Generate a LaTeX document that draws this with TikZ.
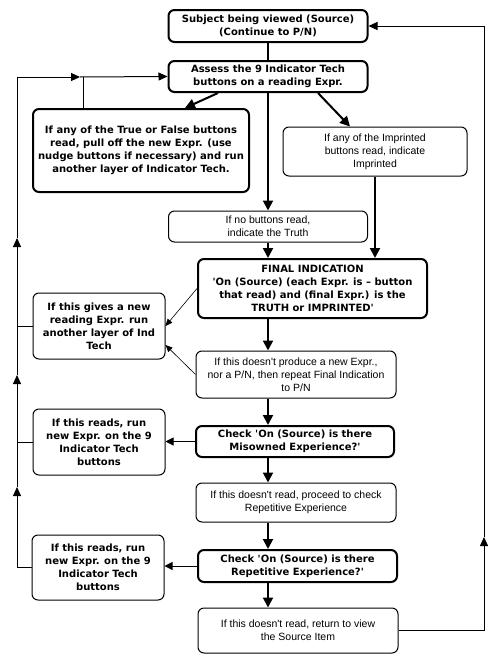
\documentclass[tikz,border=0pt]{standalone}
\usepackage{fontspec}
\usetikzlibrary{arrows.meta,calc,positioning}
\newfontfamily\chicago{DejaVu Sans}
\newfontfamily\geneva{Liberation Sans}
\newcommand{\boldtext}{\chicago\bfseries\fontsize{10}{13}\selectfont}
\newcommand{\plaintext}{\geneva\fontsize{10.5}{12.8}\selectfont}

\begin{document}
\begin{tikzpicture}[x=1pt,y=-1pt,
  box/.style={draw, rounded corners=6pt, align=center, inner sep=0pt},
  heavybox/.style={box, line width=2pt, font=\boldtext},
  lightbox/.style={box, line width=1pt, font=\plaintext},
  lightboldbox/.style={box, line width=1pt, font=\boldtext},
  flow/.style={line width=2pt, -{Triangle[width=10pt,length=10pt]}},
  link/.style={line width=1pt, -{Triangle[width=8pt,length=8pt]}},
  thinlink/.style={line width=0.6pt, -{Triangle[width=6pt,length=7pt]}},
  loopline/.style={line width=1pt, -{Triangle[width=8pt,length=9pt]}}]
  \useasboundingbox (0,0) rectangle (498,664);
  %top of the chart
  \node[heavybox, minimum width=199pt, minimum height=32pt] (source) at (268,26)
    {Subject being viewed (Source)\\(Continue to P/N)};
  \node[heavybox, minimum width=199pt, minimum height=31pt] (assess) at (268,76.5)
    {Assess the 9 Indicator Tech\\buttons on a reading Expr.};
  %the three outcomes of the buttons
  \node[heavybox, minimum width=216pt, minimum height=83pt] (truefalse) at (141,150.5)
    {If any of the True or False buttons\\read, pull off the new Expr. (use\\nudge buttons if necessary) and run\\another layer of Indicator Tech.};
  \node[lightbox, minimum width=184pt, minimum height=49pt] (imprinted) at (375,151.5)
    {If any of the Imprinted\\buttons read, indicate\\Imprinted};
  \node[lightbox, minimum width=199pt, minimum height=31pt] (notruth) at (268,226.5)
    {If no buttons read,\\indicate the Truth};
  %final indication
  \node[heavybox, minimum width=229pt, minimum height=59pt] (final) at (312.5,288.5)
    {FINAL INDICATION\\'On (Source) (each Expr. is – button\\that read) and (final Expr.) is the\\TRUTH or IMPRINTED'};
  \node[lightboldbox, minimum width=132pt, minimum height=66pt] (newread) at (99,326)
    {If this gives a new\\reading Expr. run\\another layer of Ind\\Tech};
  \node[lightbox, minimum width=200pt, minimum height=47pt] (repeat) at (296,374.5)
    {If this doesn't produce a new Expr.,\\nor a P/N, then repeat Final Indication\\to P/N};
  %misowned check
  \node[heavybox, minimum width=198pt, minimum height=31pt] (misowned) at (295,441.5)
    {Check 'On (Source) is there\\Misowned Experience?'};
  \node[lightboldbox, minimum width=132pt, minimum height=66pt] (misrun) at (99,442)
    {If this reads, run\\new Expr. on the 9\\Indicator Tech\\buttons};
  \node[lightbox, minimum width=200pt, minimum height=39pt] (proceed) at (296,502.5)
    {If this doesn't read, proceed to check\\Repetitive Experience};
  %repetitive check
  \node[heavybox, minimum width=199pt, minimum height=32pt] (repetitive) at (297.5,566)
    {Check 'On (Source) is there\\Repetitive Experience?'};
  \node[lightboldbox, minimum width=132pt, minimum height=65pt] (reprun) at (98,567.5)
    {If this reads, run\\new Expr. on the 9\\Indicator Tech\\buttons};
  \node[lightbox, minimum width=200pt, minimum height=45pt] (returnview) at (298,630.5)
    {If this doesn't read, return to view\\the Source Item};
  %points on the loops
  \coordinate (joint) at (83,77);
  \coordinate (right1) at (80,77);
  \coordinate (up1) at (17,487);
  \coordinate (up2) at (17,375);
  \coordinate (up3) at (17,238);
  \coordinate (upR) at (484,537);
  %main lines
  \draw[line width=1.3pt] (source) -- (assess);
  \draw[flow] ($(assess.south)+(-50,0)$) -- ($(truefalse.north)+(44,0)$);
  \draw[flow] ($(assess.south)+(50,0)$) -- ($(imprinted.north)+(-25,0)$);
  \draw[flow] (assess.south) -- (notruth.north);
  \draw[flow] (imprinted.south) -- (imprinted.south |- final.north);
  \draw[flow] (notruth.south) -- (notruth.south |- final.north);
  \draw[flow] (notruth.south |- final.south) -- (notruth.south |- repeat.north);
  \draw[flow] (notruth.south |- repeat.south) -- (notruth.south |- misowned.north);
  \draw[flow] (notruth.south |- misowned.south) -- (notruth.south |- proceed.north);
  \draw[flow] (notruth.south |- proceed.south) -- (notruth.south |- repetitive.north);
  \draw[flow] (notruth.south |- repetitive.south) -- (notruth.south |- returnview.north);
  %side branches
  \draw[thinlink] (final.west) -- (newread.east);
  \draw[thinlink] (repeat.west) -- ($(newread.east)+(0,19)$);
  \draw[link] (misowned.west) -- (misowned.west -| misrun.east);
  \draw[link] (repetitive.west) -- (repetitive.west -| reprun.east);
  %left loop back to the buttons
  \draw[loopline] (reprun.west) -| (up1);
  \draw[loopline] (up1) -- (up2);
  \draw[loopline] (up2) -- (up3);
  \draw[loopline] (up3) |- (right1);
  \draw[loopline] (right1) -- (assess.west);
  \draw[line width=1pt] (misrun.west) -- (misrun.west -| up1);
  \draw[line width=1pt] (newread.west) -- (newread.west -| up1);
  \draw[line width=1pt] (truefalse.north -| joint) -- (joint);
  %right loop back to the source
  \draw[loopline] (returnview.east) -| (upR);
  \draw[loopline] (upR) |- (source.east);
\end{tikzpicture}
\end{document}
